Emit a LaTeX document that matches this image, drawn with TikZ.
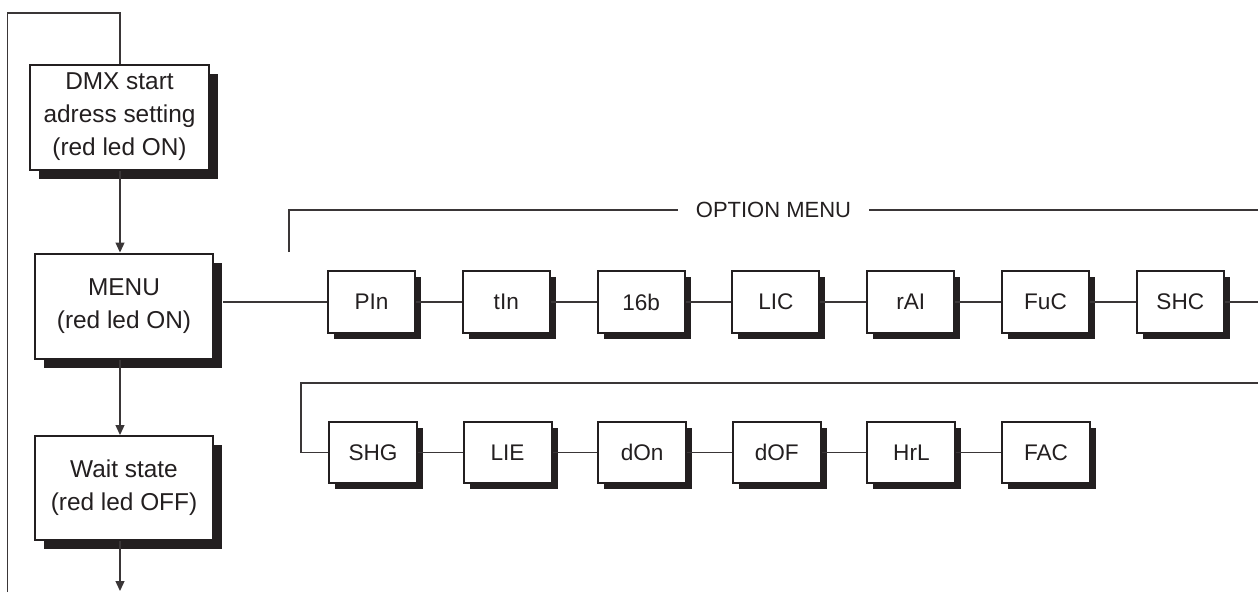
\documentclass[tikz,border=0pt]{standalone}
\usepackage{fontspec}
\setmainfont{Liberation Sans}
\usetikzlibrary{arrows.meta,shadows}
\definecolor{ink}{HTML}{231F20}
\definecolor{wire}{HTML}{3A3637}
\begin{document}
\begin{tikzpicture}[x=1pt,y=-1pt,
  every node/.style={text=ink},
  bigbox/.style={draw=ink, line width=2pt, fill=white, minimum width=178pt, minimum height=105pt,
    inner sep=0pt, align=center, font=\fontsize{24.4}{33}\selectfont,
    general shadow={fill=ink, shadow xshift=9pt, shadow yshift=-9pt}},
  smallbox/.style={draw=ink, line width=2pt, fill=white, minimum width=87pt, minimum height=62pt,
    inner sep=0pt, font=\fontsize{22.6}{27}\selectfont,
    general shadow={fill=ink, shadow xshift=6pt, shadow yshift=-6pt}},
  link/.style={draw=wire, line width=1.25pt},
  arr/.style={link, -{Triangle[length=10pt,width=9pt]}}
]
\useasboundingbox (0,0) rectangle (1258,592);

% left column
\node[bigbox, minimum width=179pt] (dmx) at (119.5,117) {DMX start\\adress setting\\(red led ON)};
\node[bigbox] (menu) at (124,306) {MENU\\(red led ON)};
\node[bigbox, minimum height=104pt] (wait) at (124,488) {Wait state\\(red led OFF)};

\coordinate (ax) at (120,0);
\coordinate (loopbot) at (7.5,592);
\coordinate (looptop) at (7.5,13);
\coordinate (waitend) at (120,591);

\draw[arr] (dmx.south -| ax) -- (menu.north -| ax);
\draw[arr] (menu.south -| ax) -- (wait.north -| ax);
\draw[arr] (wait.south -| ax) -- (waitend);
\draw[link] (loopbot) -- (looptop) -| (dmx.north -| ax);

% option menu header
\node[font=\fontsize{22}{26}\selectfont, minimum width=191pt, inner sep=0pt] (om) at (773.5,210) {OPTION MENU};
\coordinate (omleft) at (289,252);
\coordinate (omright) at (1258,210);
\draw[link] (omleft) -- (289,210) -- (om.west);
\draw[link] (om.east) -- (omright);

% row 1
\node[smallbox] (p1) at (371.5,302) {PIn};
\node[smallbox] (p2) at (506.3,302) {tIn};
\node[smallbox] (p3) at (641.1,302) {16b};
\node[smallbox] (p4) at (775.9,302) {LIC};
\node[smallbox] (p5) at (910.7,302) {rAI};
\node[smallbox] (p6) at (1045.5,302) {FuC};
\node[smallbox] (p7) at (1180.3,302) {SHC};
\coordinate (r1end) at (1258,302);

\draw[link] (menu.east |- p1) ++(9,0) -- (p1.west);
\draw[link] (p1) -- (p2);
\draw[link] (p2) -- (p3);
\draw[link] (p3) -- (p4);
\draw[link] (p4) -- (p5);
\draw[link] (p5) -- (p6);
\draw[link] (p6) -- (p7);
\draw[link] (p7.east) -- (r1end);

% row 2
\node[smallbox, minimum width=88pt, minimum height=61pt] (q1) at (373,452.5) {SHG};
\node[smallbox, minimum width=88pt, minimum height=61pt] (q2) at (507.6,452.5) {LIE};
\node[smallbox, minimum width=88pt, minimum height=61pt] (q3) at (642.2,452.5) {dOn};
\node[smallbox, minimum width=88pt, minimum height=61pt] (q4) at (776.8,452.5) {dOF};
\node[smallbox, minimum width=88pt, minimum height=61pt] (q5) at (911.4,452.5) {HrL};
\node[smallbox, minimum width=88pt, minimum height=61pt] (q6) at (1046,452.5) {FAC};
\coordinate (r2start) at (1258,383);

\draw[link] (r2start) -- (301,383) |- (q1.west);
\draw[link] (q1) -- (q2);
\draw[link] (q2) -- (q3);
\draw[link] (q3) -- (q4);
\draw[link] (q4) -- (q5);
\draw[link] (q5) -- (q6);
\end{tikzpicture}
\end{document}
